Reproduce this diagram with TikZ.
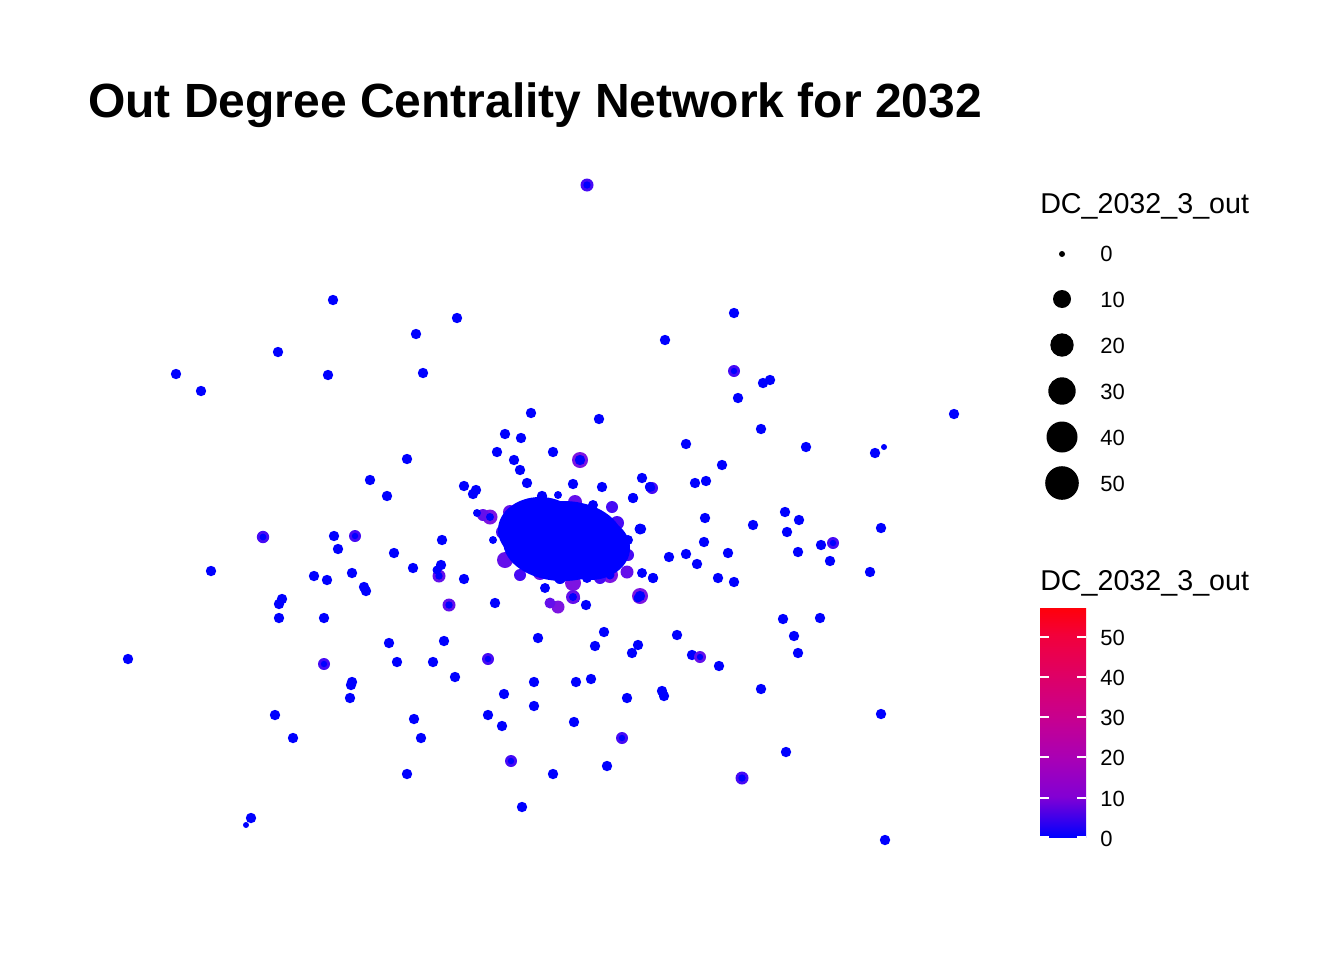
\documentclass[tikz,border=0pt]{standalone}
\usepackage{fontspec}
\setmainfont{Liberation Sans}
\definecolor{nblue}{RGB}{0,0,255}
\definecolor{cb10}{RGB}{130,0,212}
\definecolor{cb20}{RGB}{170,0,180}
\definecolor{cb30}{RGB}{200,0,142}
\definecolor{cb40}{RGB}{222,0,102}
\definecolor{cb50}{RGB}{242,0,60}
\definecolor{cbtop}{RGB}{255,0,10}
\pgfdeclareverticalshading{cbar}{100bp}{color(0bp)=(nblue); color(25bp)=(nblue); color(33.8bp)=(cb10); color(42.5bp)=(cb20); color(51.3bp)=(cb30); color(60.1bp)=(cb40); color(68.9bp)=(cb50); color(75bp)=(cbtop); color(100bp)=(cbtop)}
\begin{document}
\begin{tikzpicture}[x=0.75pt,y=-0.75pt]
\definecolor{pa}{RGB}{70,10,245}
\definecolor{pb}{RGB}{100,15,235}
\definecolor{pc}{RGB}{125,20,225}
\tikzset{
  dot/.style={fill=nblue},
  titletext/.style={anchor=base west,inner sep=0,font=\bfseries\fontsize{36}{40}\selectfont},
  legtitle/.style={anchor=base west,inner sep=0,font=\fontsize{21.5}{24}\selectfont},
  leglab/.style={anchor=west,inner sep=0,font=\fontsize{16.5}{20}\selectfont},
  legdot/.style={fill=black},
  tick/.style={draw=white,line width=0.8pt}
}
\useasboundingbox (0,0) rectangle (1344,960);
\fill[white] (0,0) rectangle (1344,960);

% title
\node[titletext] (title) at (88,117) {Out Degree Centrality Network for 2032};

% scattered nodes
\foreach \px/\py in {333/300,278/352,416/334,457/318,328/375,423/373,176/374,201/391,665/340,734/313,
 763/383,770/380,738/398,954/414,531/413,599/419,761/429,505/434,521/438,686/444,806/447,497/452,553/452,
 514/460,520/470,407/459,875/453,722/465,370/480,387/496,464/486,476/490,473/494,527/483,573/484,602/487,
 642/478,650/487,695/483,706/481,633/498,542/496,785/512,799/520,753/525,705/518,881/528,787/532,
 334/536,338/549,442/540,394/553,441/565,413/568,352/573,211/571,314/576,327/580,364/587,366/591,
 282/599,279/604,279/618,324/618,464/579,495/603,641/529,669/557,686/554,704/542,697/564,728/553,
 798/552,821/545,830/561,870/572,718/578,734/582,653/578,586/605,575/598,783/619,820/618,794/636,
 798/653,128/659,389/643,444/641,397/662,433/662,538/638,604/632,595/646,638/645,632/653,677/635,
 692/655,719/666,761/689,352/682,351/685,350/698,455/677,504/694,534/682,576/682,591/679,627/698,
 662/691,664/696,275/715,293/738,414/719,421/738,488/715,502/726,534/706,574/722,881/714,786/752,
 407/774,553/774,607/766,522/807,251/818,885/840}
 \fill[dot] (\px,\py) circle (5.2);

% tinted nodes: violet rim, blue centre
\foreach \px/\py/\pr/\pcol in {587/185/6.5/pa,734/371/6/pa,263/537/6.2/pa,355/536/6/pa,833/543/6/pa,
 439/576/6.5/pb,449/605/6.5/pb,324/664/6/pa,488/659/6/pa,700/657/6/pb,622/738/6/pa,511/761/6/pa,
 742/778/6.5/pa,652/488/6/pa,580/460/8/pc,640/596/8/pc}{
 \fill[\pcol] (\px,\py) circle (\pr);
 \fill[nblue] (\px,\py) circle ({\pr-2.8});
}
\fill[nblue] (437,570) circle (4.5);
\fill[nblue] (638,598) circle (4.5);

% small nodes
\foreach \px/\py in {884/447,246/825}
 \fill[dot] (\px,\py) circle (3);

% central cluster
\foreach \px/\py/\pr/\pcol in {490/517/7.5/pc,483/515/6/pb,510/512/7/pb,503/532/7/pa,505/560/8/pb,
 520/575/6/pa,540/573/7/pb,573/583/8/pc,573/597/7/pb,610/575/8/pc,627/572/6.5/pb,600/578/6/pa,
 558/607/6.5/pc,550/603/5.5/pb,617/523/7/pa,612/507/6/pa,575/502/7/pb,527/510/7/pa,628/555/6/pa}
 \fill[\pcol] (\px,\py) circle (\pr);
\fill[nblue] (563,541) ellipse (60 and 40);
\fill[nblue] (540,530) ellipse (42 and 33);
\fill[nblue] (590,548) ellipse (40 and 32);
\foreach \px/\py/\pr in {477/513/4,493/540/4,545/588/5,587/578/5,642/573/5,653/578/5,640/529/5.5,
 628/540/5,593/505/5,558/495/4,542/497/5,633/498/5,650/487/5,512/545/6,518/525/6,608/525/6,612/560/6,
 530/565/6,560/578/6,595/565/6,585/512/6,550/505/6,620/540/5,573/597/4,610/575/4.5,490/517/4}
 \fill[dot] (\px,\py) circle (\pr);

% size legend
\node[legtitle] (sizetitle) at (1040,213) {DC\_2032\_3\_out};
\fill[legdot] (1062,254) circle (3);
\fill[legdot] (1062,299) circle (9);
\fill[legdot] (1062,345) circle (11.7);
\fill[legdot] (1062,391) circle (13.7);
\fill[legdot] (1062,437) circle (15.5);
\fill[legdot] (1062,483) circle (16.8);
\node[leglab] (s0) at (1100,254) {0};
\node[leglab] (s10) at (1100,300) {10};
\node[leglab] (s20) at (1100,346) {20};
\node[leglab] (s30) at (1100,392) {30};
\node[leglab] (s40) at (1100,438) {40};
\node[leglab] (s50) at (1100,484) {50};

% colour legend
\node[legtitle] (coltitle) at (1040,590) {DC\_2032\_3\_out};
\shade[shading=cbar] (1040,837) rectangle (1086,608);
\foreach \ty in {637,677,717,757,798,837}{
  \draw[tick] (1040,\ty) -- (1049,\ty);
  \draw[tick] (1077,\ty) -- (1086,\ty);
}
\node[leglab] (c50) at (1100,638) {50};
\node[leglab] (c40) at (1100,678) {40};
\node[leglab] (c30) at (1100,718) {30};
\node[leglab] (c20) at (1100,758) {20};
\node[leglab] (c10) at (1100,799) {10};
\node[leglab] (c0) at (1100,839) {0};
\end{tikzpicture}
\end{document}
